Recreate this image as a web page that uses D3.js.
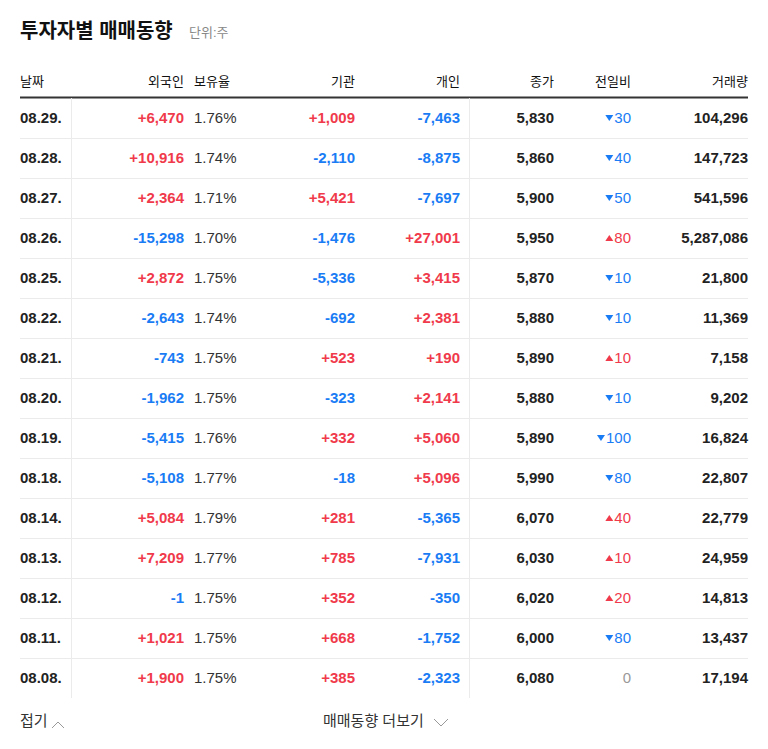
<!DOCTYPE html>
<html><head><meta charset="utf-8">
<script src="https://cdn.jsdelivr.net/npm/d3@7"></script>
<style>body{margin:0;background:#fff}svg{display:block;font-family:"Liberation Sans","Noto Sans CJK KR",sans-serif}</style>
</head><body><div id="chart"></div>
<script>
// data
const dates = ["08.29.","08.28.","08.27.","08.26.","08.25.","08.22.","08.21.","08.20.","08.19.","08.18.","08.14.","08.13.","08.12.","08.11.","08.08."];
const foreign = [6470,10916,2364,-15298,2872,-2643,-743,-1962,-5415,-5108,5084,7209,-1,1021,1900];
const holdRate = [1.76,1.74,1.71,1.70,1.75,1.74,1.75,1.75,1.76,1.77,1.79,1.77,1.75,1.75,1.75];
const institution = [1009,-2110,5421,-1476,-5336,-692,523,-323,332,-18,281,785,352,668,385];
const individual = [-7463,-8875,-7697,27001,3415,2381,190,2141,5060,5096,-5365,-7931,-350,-1752,-2323];
const closePrice = [5830,5860,5900,5950,5870,5880,5890,5880,5890,5990,6070,6030,6020,6000,6080];
const change = [-30,-40,-50,80,-10,-10,10,-10,-100,-80,40,10,20,-80,0];
const volume = [104296,147723,541596,5287086,21800,11369,7158,9202,16824,22807,22779,24959,14813,13437,17194];
const headers = ["날짜","외국인","보유율","기관","개인","종가","전일비","거래량"];

const W = 768, H = 749;
const RED = "#f03a4b", BLUE = "#1a7cf5", DARK = "#222";
const svg = d3.select("#chart").append("svg").attr("width", W).attr("height", H);
const fmt = v => d3.format(",")(v).replace("\u2212", "-");
const signed = v => (v > 0 ? "+" : "") + fmt(v);
const col = v => v > 0 ? RED : v < 0 ? BLUE : DARK;

const y = d3.scaleBand().domain(d3.range(dates.length)).range([98, 698]);

svg.append("text").attr("x", 20).attr("y", 38).attr("font-size", 20).attr("font-weight", 700).attr("fill", "#111").text("투자자별 매매동향");
svg.append("text").attr("x", 189).attr("y", 37).attr("font-size", 13).attr("fill", "#888").text("단위:주");

// header
const hx = [[20,"start"],[184,"end"],[194,"start"],[355,"end"],[460,"end"],[554,"end"],[631,"end"],[748,"end"]];
headers.forEach((h, i) => svg.append("text").attr("x", hx[i][0]).attr("y", 86).attr("text-anchor", hx[i][1])
  .attr("font-size", 13).attr("fill", "#111").text(h));
svg.append("line").attr("x1", 20).attr("x2", 748).attr("y1", 97.5).attr("y2", 97.5).attr("stroke", "#333").attr("stroke-width", 2);

// grid
dates.slice(1).forEach((d, i) => svg.append("line").attr("x1", 20).attr("x2", 748)
  .attr("y1", y(i + 1) + 0.5).attr("y2", y(i + 1) + 0.5).attr("stroke", "#ebebeb"));
[71.5, 469.5].forEach(x => svg.append("line").attr("x1", x).attr("x2", x).attr("y1", 98).attr("y2", 698).attr("stroke", "#ebebeb"));

const rows = svg.selectAll("g.row").data(dates).join("g").attr("class", "row")
  .attr("transform", (d, i) => `translate(0,${y(i) + y.bandwidth() / 2 + 5})`)
  .attr("font-size", 15);

const bold = (x, txt, fill) => rows.append("text").attr("x", x).attr("text-anchor", "end")
  .attr("font-weight", 700).attr("fill", fill).text(txt);
rows.append("text").attr("x", 20).attr("font-weight", 700).attr("fill", DARK).text(d => d);
bold(184, (d, i) => signed(foreign[i]), (d, i) => col(foreign[i]));
rows.append("text").attr("x", 194).attr("fill", "#333").text((d, i) => holdRate[i].toFixed(2) + "%");
bold(355, (d, i) => signed(institution[i]), (d, i) => col(institution[i]));
bold(460, (d, i) => signed(individual[i]), (d, i) => col(individual[i]));
bold(554, (d, i) => fmt(closePrice[i]), DARK);
bold(748, (d, i) => fmt(volume[i]), DARK);

// 전일비
rows.each(function(d, i) {
  const g = d3.select(this), v = change[i];
  const c = v > 0 ? RED : v < 0 ? BLUE : "#999";
  const t = g.append("text").attr("x", 631).attr("text-anchor", "end").attr("fill", c).text(Math.abs(v));
  if (v !== 0) {
    const w = t.node().getComputedTextLength();
    const ax = 631 - w - 5;
    const path = v < 0 ? `M${ax-4},-8L${ax+4},-8L${ax},-2Z` : `M${ax-4},-2L${ax+4},-2L${ax},-8Z`;
    g.append("path").attr("d", path).attr("fill", c);
  }
});

// footer
svg.append("text").attr("x", 20).attr("y", 726).attr("font-size", 15).attr("fill", "#333").text("접기");
svg.append("path").attr("d", "M52,728L58,722L64,728").attr("fill", "none").attr("stroke", "#999");
svg.append("text").attr("x", 323).attr("y", 726).attr("font-size", 15).attr("fill", "#333").text("매매동향 더보기");
svg.append("path").attr("d", "M434,719L441,726L448,719").attr("fill", "none").attr("stroke", "#999");
</script></body></html>
